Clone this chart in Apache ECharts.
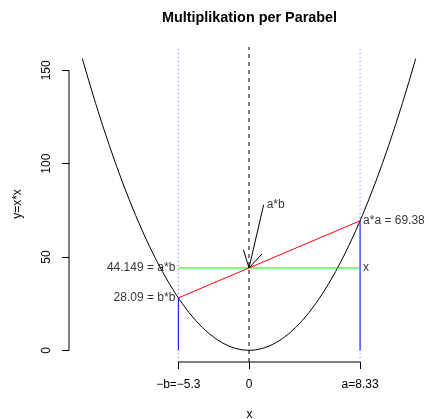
<!DOCTYPE html>
<html>
<head>
<meta charset="utf-8">
<script src="https://cdn.jsdelivr.net/npm/echarts@6/dist/echarts.min.js"></script>
<style>html,body{margin:0;padding:0;background:#fff}#c{width:429px;height:419px}</style>
</head>
<body>
<div id="c"></div>
<script>
// ---- data ----
const a = 8.33;
const b = 5.3;
const aa = 69.38;     // a*a
const bb = 28.09;     // b*b
const ab = 44.149;    // a*b
const curveX = [-12.5,-12,-11.5,-11,-10.5,-10,-9.5,-9,-8.5,-8,-7.5,-7,-6.5,-6,-5.5,-5,-4.5,-4,-3.5,-3,-2.5,-2,-1.5,-1,-0.5,0,0.5,1,1.5,2,2.5,3,3.5,4,4.5,5,5.5,6,6.5,7,7.5,8,8.5,9,9.5,10,10.5,11,11.5,12,12.5];
const curveY = [156.25,144,132.25,121,110.25,100,90.25,81,72.25,64,56.25,49,42.25,36,30.25,25,20.25,16,12.25,9,6.25,4,2.25,1,0.25,0,0.25,1,2.25,4,6.25,9,12.25,16,20.25,25,30.25,36,42.25,49,56.25,64,72.25,81,90.25,100,110.25,121,132.25,144,156.25];
const xTicks = [-5.3, 0, 8.33];
const xTickLabels = ['\u2212b=\u22125.3', '0', 'a=8.33'];
const yTicks = [0, 50, 100, 150];
const yTickLabels = ['0', '50', '100', '150'];
const arrowFrom = [1.1, 78];
const arrowTo = [0, 44.149];
const titleText = 'Multiplikation per Parabel';

// ---- layout ----
const xMin = -13.5, xMax = 13.5, yMin = -6.25, yMax = 162.5;
const FONT = '"Liberation Sans", Arial, Helvetica, sans-serif';
const K = '#000';

function seg(p, q, color, type, z) {
  return {
    type: 'line', data: [p, q], showSymbol: false, symbol: 'none', clip: false,
    color: color,
    lineStyle: { color: color, width: 1, type: type }, z: z || 2, silent: true
  };
}
function lbl(x, y, text, pos) {
  return { value: [x, y], label: { show: true, formatter: text, position: pos, distance: 3, color: K } };
}

const chart = echarts.init(document.getElementById('c'), null, { renderer: 'canvas' });
chart.setOption({
  animation: false,
  backgroundColor: '#fff',
  textStyle: { fontFamily: FONT },
  grid: { left: 69, top: 47, width: 361, height: 315, containLabel: false },
  graphic: [
    { type: 'text', x: 249.5, y: 18, style: { text: titleText, textAlign: 'center', textVerticalAlign: 'middle', font: 'bold 14.4px ' + FONT, fill: K } },
    { type: 'text', x: 18, y: 204, rotation: Math.PI / 2, style: { text: 'y=x*x', textAlign: 'center', textVerticalAlign: 'middle', font: '12px ' + FONT, fill: K } },
    { type: 'text', x: 249.5, y: 415, style: { text: 'x', textAlign: 'center', textVerticalAlign: 'middle', font: '12px ' + FONT, fill: K } }
  ],
  xAxis: {
    type: 'value', min: xMin, max: xMax,
    axisLine: { show: false, onZero: false },
    splitLine: { show: false },
    axisTick: { show: true, customValues: xTicks, length: 7, lineStyle: { color: K, width: 1 } },
    axisLabel: {
      show: true, customValues: xTicks, margin: 17, color: K, fontSize: 12, fontFamily: FONT,
      formatter: function (v) { for (let i = 0; i < xTicks.length; i++) if (Math.abs(xTicks[i] - v) < 1e-6) return xTickLabels[i]; return ''; }
    }
  },
  yAxis: {
    type: 'value', min: yMin, max: yMax,
    axisLine: { show: false, onZero: false },
    splitLine: { show: false },
    axisTick: { show: true, customValues: yTicks, length: 7, lineStyle: { color: K, width: 1 } },
    axisLabel: {
      show: true, customValues: yTicks, margin: 16, rotate: 90, color: K, fontSize: 12, fontFamily: FONT,
      formatter: function (v) { for (let i = 0; i < yTicks.length; i++) if (Math.abs(yTicks[i] - v) < 1e-6) return yTickLabels[i]; return ''; }
    }
  },
  series: [
    // axis lines spanning only the tick range
    seg([xTicks[0], yMin], [xTicks[xTicks.length - 1], yMin], K, 'solid', 5),
    seg([xMin, yTicks[0]], [xMin, yTicks[yTicks.length - 1]], K, 'solid', 5),
    // parabola
    {
      type: 'line', data: curveX.map((x, i) => [x, curveY[i]]), showSymbol: false, symbol: 'none',
      clip: true, color: K, lineStyle: { color: K, width: 1 }, z: 2, silent: true
    },
    // reference verticals
    seg([0, yMin], [0, yMax], K, [4, 4], 3),
    seg([-b, yMin], [-b, yMax], '#6a6aff', [1, 3], 3),
    seg([a, yMin], [a, yMax], '#6a6aff', [1, 3], 3),
    seg([-b, 0], [-b, bb], '#0000ff', 'solid', 4),
    seg([a, 0], [a, aa], '#0000ff', 'solid', 4),
    // green & red
    seg([-b, ab], [a, ab], '#00ff00', 'solid', 4),
    seg([-b, bb], [a, aa], '#ff0000', 'solid', 4),
    // arrow
    {
      type: 'custom', z: 6, silent: true, clip: false,
      data: [[arrowFrom[0], arrowFrom[1], arrowTo[0], arrowTo[1]]],
      encode: { x: [0, 2], y: [1, 3] },
      renderItem: function (params, api) {
        const p0 = api.coord([api.value(0), api.value(1)]);
        const p1 = api.coord([api.value(2), api.value(3)]);
        const dx = p0[0] - p1[0], dy = p0[1] - p1[1];
        const L = Math.sqrt(dx * dx + dy * dy), ux = dx / L, uy = dy / L;
        const hl = 19, ang = Math.PI / 6;
        const rot = (t) => [p1[0] + hl * (ux * Math.cos(t) - uy * Math.sin(t)), p1[1] + hl * (ux * Math.sin(t) + uy * Math.cos(t))];
        const h1 = rot(ang), h2 = rot(-ang);
        const st = { stroke: K, lineWidth: 1, fill: null };
        return {
          type: 'group', children: [
            { type: 'polyline', shape: { points: [p0, p1] }, style: st },
            { type: 'polyline', shape: { points: [h1, p1, h2] }, style: st }
          ]
        };
      }
    },
    // text annotations
    {
      type: 'scatter', symbolSize: 0.001, itemStyle: { color: 'rgba(0,0,0,0)' }, z: 7, silent: true, clip: false,
      label: { color: K, fontSize: 12, fontFamily: FONT },
      data: [
        lbl(-b, ab, ab + ' = a*b', 'left'),
        lbl(-b, bb, bb + ' = b*b', 'left'),
        lbl(a, aa, 'a*a = ' + aa, 'right'),
        lbl(a, ab, 'x', 'right'),
        lbl(arrowFrom[0], arrowFrom[1], 'a*b', 'right')
      ]
    }
  ]
});
</script>
</body>
</html>
